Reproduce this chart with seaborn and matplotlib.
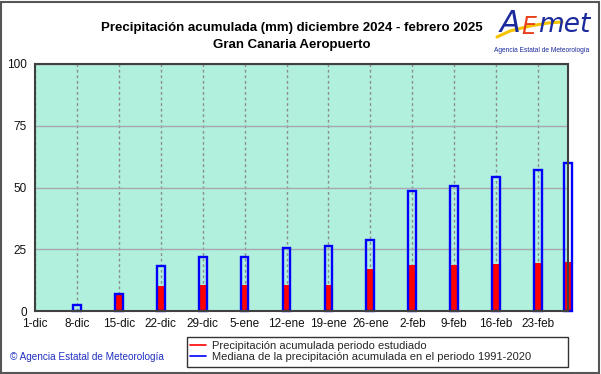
import matplotlib
matplotlib.use("Agg")
import matplotlib.pyplot as plt
import seaborn as sns
import pandas as pd
from matplotlib.lines import Line2D
from matplotlib.patches import Rectangle

# ---- data ----
tick_days = [0, 7, 14, 21, 28, 35, 42, 49, 56, 63, 70, 77, 84]
tick_labels = ["1-dic", "8-dic", "15-dic", "22-dic", "29-dic", "5-ene", "12-ene",
               "19-ene", "26-ene", "2-feb", "9-feb", "16-feb", "23-feb"]
bar_days = [7, 14, 21, 28, 35, 42, 49, 56, 63, 70, 77, 84, 89]
studied = [0.0, 6.5, 10.2, 10.5, 10.5, 10.6, 10.6, 17.2, 18.7, 18.7, 19.0, 19.5, 20.0]
median = [2.4, 7.0, 18.3, 21.7, 21.7, 25.5, 26.3, 28.7, 48.6, 50.7, 54.3, 57.0, 60.0]
y_ticks = [0, 25, 50, 75, 100]

df = pd.DataFrame({"day": bar_days, "studied": studied, "median": median})

sns.set_theme(style="white")
plt.rcParams["font.family"] = ["Liberation Sans", "DejaVu Sans"]

W, H = 601, 374
fig = plt.figure(figsize=(6.01, 3.74), dpi=100)
fig.patch.set_facecolor("white")
ax = fig.add_axes([35 / W, 1 - 311 / H, (568 - 35) / W, (311 - 64) / H])
ax.set_facecolor("#b0f0dc")

bar_w = 1.3 / 5.0
sns.barplot(data=df, x="day", y="studied", native_scale=True, width=bar_w,
            color="#ff0000", saturation=1, errorbar=None, linewidth=0, ax=ax)
sns.barplot(data=df, x="day", y="median", native_scale=True, width=bar_w,
            color="#0000ff", saturation=1, errorbar=None, fill=False,
            linewidth=1.7, ax=ax)
for p in ax.patches:
    p.set_clip_on(False)

ax.set_xlim(0, 89)
ax.set_ylim(0, 100)
ax.set_xticks(tick_days)
ax.set_xticklabels(tick_labels, fontsize=8.5, color="#111111")
ax.set_yticks(y_ticks)
ax.set_yticklabels([str(v) for v in y_ticks], fontsize=8.5, color="#111111")
ax.tick_params(axis="both", length=0)
ax.tick_params(axis="x", pad=5)
ax.tick_params(axis="y", pad=6)
ax.set_xlabel("")
ax.set_ylabel("")
ax.set_axisbelow(True)
ax.yaxis.grid(True, color="#a8a8b0", linewidth=1.0, linestyle="-")
ax.xaxis.grid(True, color="#8c8c8c", linewidth=1.0, linestyle=(0, (2, 2)))
for s in ax.spines.values():
    s.set_color("#404040")
    s.set_linewidth(1.5)
    s.set_visible(True)

# titles
fig.text(292 / W, 1 - 28 / H, "Precipitación acumulada (mm) diciembre 2024 - febrero 2025",
         ha="center", va="center", fontsize=9.5, fontweight="bold", color="#000000")
fig.text(292 / W, 1 - 45 / H, "Gran Canaria Aeropuerto",
         ha="center", va="center", fontsize=9.5, fontweight="bold", color="#000000")

# logo
fig.add_artist(Line2D([497 / W, 510 / W, 530 / W, 548 / W, 562 / W],
                      [1 - 37 / H, 1 - 31 / H, 1 - 26 / H, 1 - 23 / H, 1 - 22 / H],
                      color="#f5c400", linewidth=2.2, solid_capstyle="round"))
fig.text(510 / W, 1 - 24 / H, "A", ha="center", va="center", fontsize=22,
         style="italic", color="#1a2a9c", family="DejaVu Sans")
fig.text(529 / W, 1 - 27 / H, "E", ha="center", va="center", fontsize=17,
         style="italic", color="#e8401c", family="DejaVu Sans")
fig.text(564 / W, 1 - 25 / H, "met", ha="center", va="center", fontsize=19,
         style="italic", color="#1a2a9c", family="DejaVu Sans")
fig.text(542 / W, 1 - 50 / H, "Agencia Estatal de Meteorología", ha="center",
         va="center", fontsize=4.8, color="#1a2a9c")

# copyright
fig.text(10 / W, 1 - 357 / H, "© Agencia Estatal de Meteorología", ha="left",
         va="center", fontsize=7.2, color="#2030c0")

# legend (frame drawn separately to match the wide box)
fig.patches.append(Rectangle((187 / W, 1 - 367 / H), (568 - 187) / W, 30 / H,
                             transform=fig.transFigure, fill=True, facecolor="white",
                             edgecolor="#333333", linewidth=1.0))
handles = [Line2D([0], [0], color="#ff0000", lw=1.2),
           Line2D([0], [0], color="#0000ff", lw=1.2)]
labels = ["Precipitación acumulada periodo estudiado",
          "Mediana de la precipitación acumulada en el periodo 1991-2020"]
leg = fig.legend(handles, labels, loc="upper left",
                 bbox_to_anchor=(190 / W, 1 - 341 / H), fontsize=8,
                 frameon=False, handlelength=1.4, handletextpad=0.6,
                 borderpad=0.0, labelspacing=0.05, borderaxespad=0)

# figure border
fig.patches.append(Rectangle((1 / W, 1 / H), 598 / W, 371 / H,
                             transform=fig.transFigure, fill=False,
                             edgecolor="#555555", linewidth=1.5))

fig.savefig("out.png", dpi=100)
